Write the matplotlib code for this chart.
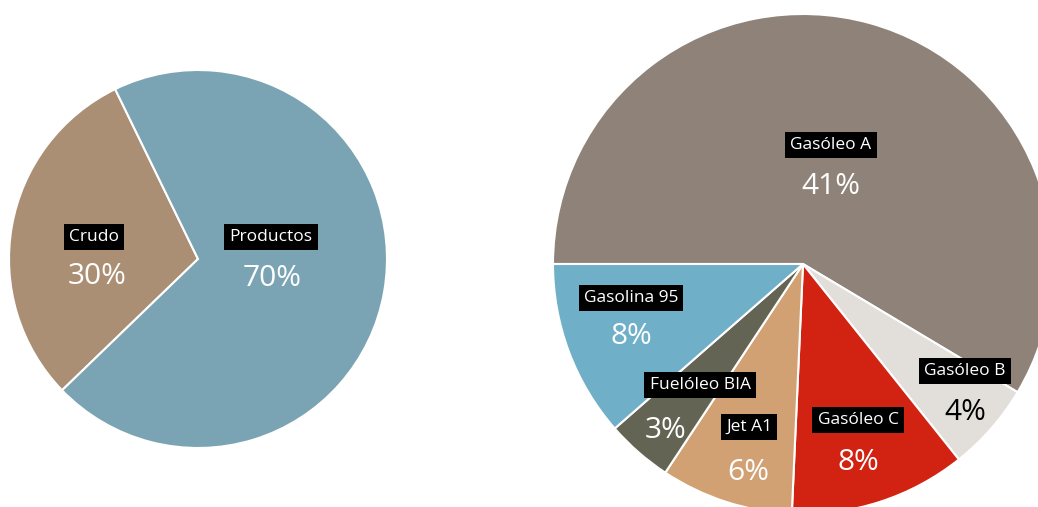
import matplotlib
matplotlib.use("Agg")
import matplotlib.pyplot as plt

# Left pie data
left_labels = ["Crudo", "Productos"]
left_values = [30, 70]
left_colors = ["#AB8F74", "#7AA4B3"]

# Right pie data (percent of total)
right_labels = ["Gasóleo A", "Gasóleo B", "Gasóleo C", "Jet A1", "Fuelóleo BIA", "Gasolina 95"]
right_values = [41, 4, 8, 6, 3, 8]
right_colors = ["#8E8279", "#E2DFDA", "#D22211", "#D1A174", "#646455", "#70AFC8"]
right_pct_colors = ["white", "black", "white", "white", "white", "white"]

W, H = 1038, 507
fig = plt.figure(figsize=(W / 100, H / 100), dpi=100)
ax = fig.add_axes([0, 0, 1, 1])

font = ["Open Sans", "DejaVu Sans"]

# left pie: centre/radius in pixel units
lc, lr = (198, H - 259), 189
ax.pie(left_values, colors=left_colors, startangle=116, counterclock=True,
       center=lc, radius=lr, wedgeprops=dict(edgecolor="white", linewidth=1.5))

rc, rr = (803, H - 264), 250
ax.pie(right_values, colors=right_colors, startangle=180, counterclock=False,
       center=rc, radius=rr, wedgeprops=dict(edgecolor="white", linewidth=1.5))

ax.set_xlim(0, W)
ax.set_ylim(0, H)
ax.set_aspect("equal")
ax.axis("off")

box = dict(boxstyle="square,pad=0.3", fc="black", ec="none")

# annotation positions (label box, percentage) in pixel coords from top
left_pos = [((94, 237), (97, 277)), ((271, 237), (272, 278))]
right_pos = [((831, 145), (831, 187)), ((965, 371), (965, 412)),
             ((858, 420), (858, 463)), ((749, 427), (748, 472)),
             ((700, 385), (666, 430)), ((631, 298), (631, 337))]

def annotate(lbl, val, pos, pcol):
    (lx, ly), (px, py) = pos
    ax.text(lx, H - ly, lbl, color="white", fontsize=12.5, family=font,
            ha="center", va="center", bbox=box)
    ax.text(px, H - py, f"{val}%", color=pcol, fontsize=21.5, family=font,
            ha="center", va="center")

for lbl, val, pos in zip(left_labels, left_values, left_pos):
    annotate(lbl, val, pos, "white")
for lbl, val, pos, pc in zip(right_labels, right_values, right_pos, right_pct_colors):
    annotate(lbl, val, pos, pc)

fig.savefig("out.png", dpi=100, facecolor="white")
